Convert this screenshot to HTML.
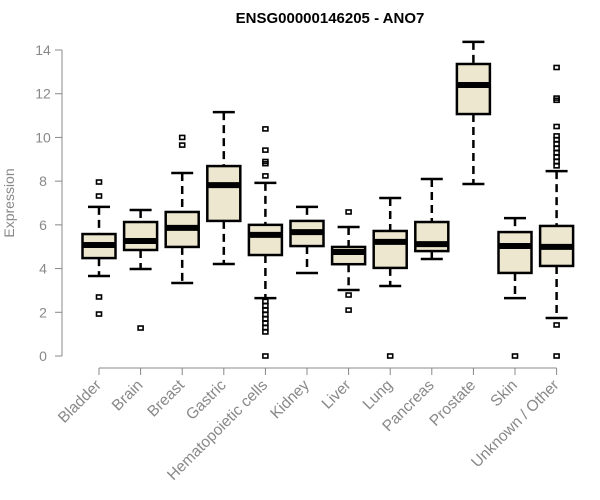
<!DOCTYPE html>
<html><head><meta charset="utf-8"><style>body{margin:0;background:#fff}svg{display:block;font-family:"Liberation Sans",Arial,sans-serif}</style></head>
<body>
<svg id="c" width="600" height="500">
<text x="330" y="23" text-anchor="middle" font-size="15" font-weight="bold">ENSG00000146205 - ANO7</text>
<text transform="translate(14,203) rotate(-90)" text-anchor="middle" font-size="14" fill="#888">Expression</text>
<g id="ax"></g><g id="marks"></g>
</svg>
<script>
const categories=["Bladder","Brain","Breast","Gastric","Hematopoietic cells","Kidney","Liver","Lung","Pancreas","Prostate","Skin","Unknown / Other"];
const q1=[4.48,4.85,4.99,6.18,4.62,5.03,4.2,4.03,4.8,11.07,3.8,4.12];
const medians=[5.08,5.26,5.86,7.82,5.54,5.67,4.76,5.22,5.12,12.4,5.03,4.99];
const q3=[5.58,6.13,6.59,8.69,6.0,6.18,4.99,5.72,6.13,13.36,5.67,5.95];
const whiskLo=[3.66,3.98,3.34,4.21,2.65,3.8,3.02,3.2,4.44,7.87,2.65,1.74];
const whiskHi=[6.82,6.68,8.37,11.16,7.92,6.82,5.9,7.23,8.1,14.37,6.31,8.46];
const outliers=[[7.96,7.32,2.7,1.92],[1.28],[10.0,9.65],[],[10.39,9.42,8.9,8.8,8.24,2.5,2.3,2.1,1.9,1.7,1.5,1.3,1.1,0],[],[6.59,2.79,2.1],[0],[],[],[0],[13.2,11.8,11.7,10.5,10.07,9.9,9.7,9.5,9.3,9.1,8.9,8.7,1.42,0]];
const yTicks=[0,2,4,6,8,10,12,14];
const NS="http://www.w3.org/2000/svg";
const y=v=>356-v*21.857;
const x=i=>99+i*41.6;
function mk(p,t,a){const e=document.createElementNS(NS,t);for(const k in a)e.setAttribute(k,a[k]);p.appendChild(e);return e;}
const ax=document.getElementById('ax'),g=document.getElementById('marks');
const yl=mk(ax,'line',{x1:62,x2:62,y1:y(0),y2:y(14),stroke:'#888'});


yTicks.forEach(t=>{
 mk(ax,'line',{x1:55,x2:62,y1:y(t),y2:y(t),stroke:'#888'});
 const tx=mk(ax,'text',{x:43,y:y(t)+5,'text-anchor':'middle','font-size':14,fill:'#888'});
 tx.textContent=t;
 
 
});
const xl=mk(ax,'line',{x1:x(0),x2:x(11),y1:368,y2:368,stroke:'#888'});


categories.forEach((c,i)=>{
 const cx=x(i);
 mk(ax,'line',{x1:cx,x2:cx,y1:368,y2:375,stroke:'#888'});
 const tx=mk(ax,'text',{transform:`translate(${cx+3},386) rotate(-45)`,'text-anchor':'end','font-size':15.5,fill:'#888'});
 tx.textContent=c;
 
 
 const b=mk(g,'g',{});
 
 
 mk(b,'line',{x1:cx,x2:cx,y1:y(whiskHi[i]),y2:y(q3[i]),stroke:'#000','stroke-width':2.5,'stroke-dasharray':'8,5'});
 mk(b,'line',{x1:cx,x2:cx,y1:y(q1[i]),y2:y(whiskLo[i]),stroke:'#000','stroke-width':2.5,'stroke-dasharray':'8,5'});
 mk(b,'line',{x1:cx-11,x2:cx+11,y1:y(whiskHi[i]),y2:y(whiskHi[i]),stroke:'#000','stroke-width':2.5});
 mk(b,'line',{x1:cx-11,x2:cx+11,y1:y(whiskLo[i]),y2:y(whiskLo[i]),stroke:'#000','stroke-width':2.5});
 mk(b,'rect',{x:cx-16.5,y:y(q3[i]),width:33,height:y(q1[i])-y(q3[i]),fill:'#ede7cf',stroke:'#000','stroke-width':2.5});
 mk(b,'line',{x1:cx-16.5,x2:cx+16.5,y1:y(medians[i]),y2:y(medians[i]),stroke:'#000','stroke-width':6});
 outliers[i].forEach(o=>{
  const r=mk(b,'rect',{x:cx-2.5,y:y(o)-2,width:5,height:4,fill:'none',stroke:'#000','stroke-width':1.6});
  
  
 });
});
</script>
</body></html>
